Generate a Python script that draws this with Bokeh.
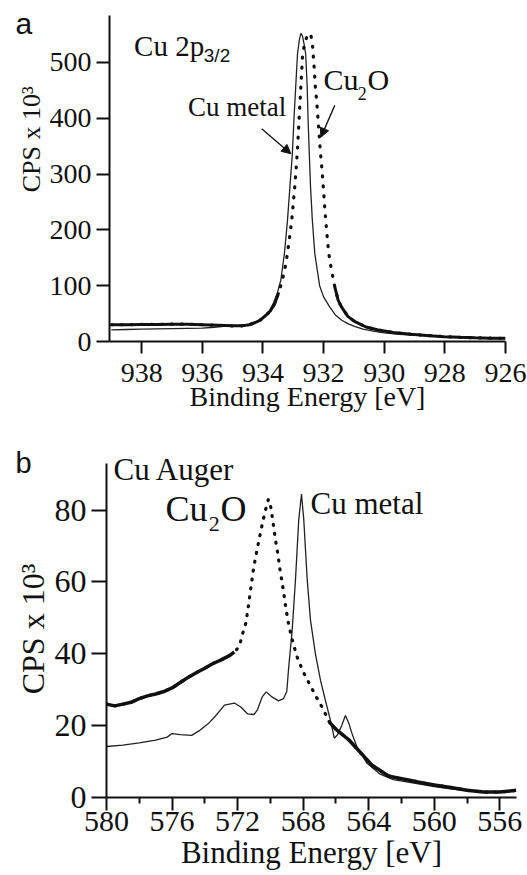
import numpy as np
from bokeh.plotting import figure
from bokeh.layouts import column, row
from bokeh.models import Range1d, Label, Arrow, NormalHead, FixedTicker
from bokeh.embed import file_html
from bokeh.resources import INLINE

# ---------------- panel a : Cu 2p3/2 ----------------
a_metal_be = [939.0, 938.5, 938.0, 937.5, 937.0, 936.5, 936.0, 935.6, 935.3, 935.0, 934.7,
              934.45, 934.25, 934.1, 933.95, 933.8, 933.65, 933.52, 933.41, 933.29, 933.19,
              933.11, 933.03, 932.98, 932.92, 932.86, 932.80, 932.75, 932.70, 932.65, 932.59,
              932.54, 932.51, 932.47, 932.43, 932.37, 932.29, 932.20, 932.13, 932.0, 931.8,
              931.6, 931.4, 931.2, 930.98, 930.7, 930.32, 930.0, 929.5, 929.0, 928.5, 928.0,
              927.5, 927.0, 926.5, 926.0]
a_metal_cps = [21, 21.5, 22, 22.5, 23, 23.5, 24, 25.5, 27, 27.5, 28,
               30, 34, 38.5, 45, 53, 69, 88, 110, 158, 217,
               277, 336, 395, 455, 515, 540, 552, 548, 535, 515,
               456, 396, 336, 277, 217, 158, 125, 100, 80, 62,
               47, 38, 32, 27, 22, 18, 15.5, 13, 11.5, 10, 8,
               7, 6, 5.5, 5]

a_oxide_be = [939.0, 938.5, 938.0, 937.5, 937.0, 936.5, 936.0, 935.5, 935.0, 934.7, 934.45,
              934.25, 934.1, 933.9, 933.75, 933.6, 933.48, 933.36, 933.26, 933.19, 933.12,
              933.05, 933.0, 932.95, 932.91, 932.87, 932.84, 932.81, 932.78, 932.75, 932.72,
              932.69, 932.62, 932.55, 932.48, 932.42, 932.36, 932.31, 932.27, 932.22, 932.18,
              932.14, 932.10, 932.05, 932.01, 931.97, 931.93, 931.88, 931.83, 931.74, 931.63,
              931.52, 931.41, 931.2, 930.98, 930.6, 930.2, 929.7, 929.12, 928.5, 928.02,
              927.5, 927.0, 926.5, 926.0]
a_oxide_cps = [30, 30, 30.5, 30.5, 31, 31, 30, 29, 28, 28, 30,
               34, 38, 47, 55, 69, 88, 110, 135, 158, 187,
               217, 247, 277, 306, 336, 366, 396, 426, 456, 486,
               515, 535, 546, 552, 550, 527, 490, 455, 426, 396,
               366, 336, 306, 277, 247, 217, 187, 158, 128, 98,
               74, 62, 45, 36, 26, 20.6, 16, 13, 10.5, 8.6,
               7.5, 6.5, 6, 5.7]

a_xticks = [938, 936, 934, 932, 930, 928, 926]
a_yticks = [0, 100, 200, 300, 400, 500]

# ---------------- panel b : Cu Auger ----------------
b_metal_be = [580.0, 579.0, 578.0, 577.0, 576.3, 576.0, 575.5, 574.8, 574.3, 573.8, 573.4,
              572.8, 572.2, 571.8, 571.4, 571.0, 570.8, 570.5, 570.25, 569.9, 569.5, 569.2,
              569.0, 568.88, 568.67, 568.47, 568.27, 568.10, 567.96, 567.75, 567.55, 567.25,
              566.94, 566.64, 566.33, 566.1, 565.9, 565.65, 565.42, 565.2, 565.01, 564.71,
              564.1, 563.3, 562.5, 561.5, 560.0, 559.0, 558.0, 557.0, 556.0, 555.0]
b_metal_cps = [14.2, 14.6, 15.2, 16.0, 16.8, 17.8, 17.5, 17.3, 18.7, 20.5, 22.4,
               25.7, 26.3, 25.2, 23.3, 23.1, 24.3, 28.0, 29.4, 28.0, 26.9, 27.5,
               29.5, 36.3, 46.5, 60.5, 77.2, 84.5, 77.2, 60.5, 49.3, 40.0,
               32.6, 27.0, 21.4, 16.5, 17.5, 20.0, 22.8, 20.5, 17.7, 14.0,
               9.5, 6.5, 5.0, 4.2, 3.0, 2.4, 1.9, 1.6, 1.6, 1.8]

b_oxide_be = [580.0, 579.5, 579.0, 578.5, 578.0, 577.5, 577.0, 576.5, 576.0, 575.5, 575.0,
              574.5, 574.0, 573.5, 573.0, 572.5, 572.2, 571.9, 571.7, 571.5, 571.35, 571.2,
              571.05, 570.9, 570.7, 570.5, 570.3, 570.12, 570.0, 569.85, 569.7, 569.55,
              569.4, 569.25, 569.08, 568.9, 568.67, 568.4, 568.0, 567.6, 567.2, 566.8,
              566.4, 566.0, 565.6, 565.2, 564.8, 564.3, 563.8, 563.3, 562.8, 562.3, 561.5,
              561.0, 560.0, 559.0, 558.0, 557.0, 556.0, 555.0]
b_oxide_cps = [26.0, 25.5, 26.0, 26.5, 27.5, 28.3, 28.8, 29.5, 30.5, 32.0, 33.5,
               34.8, 36.0, 37.3, 38.3, 39.5, 40.5, 42.0, 45.5, 48.5, 53.0, 58.0,
               63.0, 67.0, 71.5, 76.0, 80.0, 83.0, 81.5, 77.0, 72.0, 68.0,
               63.0, 59.0, 53.5, 48.5, 44.0, 39.5, 35.0, 31.5, 28.0, 24.8,
               21.0, 19.0, 17.5, 16.0, 14.0, 11.5, 9.0, 7.5, 6.0, 5.5, 4.8,
               4.3, 3.5, 2.8, 2.0, 1.5, 1.5, 2.0]

b_xticks = [580, 576, 572, 568, 564, 560, 556]
b_xminor = [578, 574, 570, 566, 562, 558]
b_yticks = [0, 20, 40, 60, 80]

INK = "#111111"
SERIF = "Liberation Serif"
SANS = "Liberation Sans"
STRIP_A = 46
STRIP_B = 50

# panel geometry (pixels): canvas heights and frame borders
A_H, A_TOP, A_BOTTOM = 437, 15, 96
B_H, B_TOP, B_BOTTOM = 438, 4, 78


def style(p, tick_size, x_out, y_out, x_stand, y_stand):
    p.outline_line_color = None
    p.xgrid.visible = False
    p.ygrid.visible = False
    p.background_fill_color = "white"
    p.border_fill_color = "white"
    for ax in (p.xaxis[0], p.yaxis[0]):
        ax.axis_line_width = 2
        ax.axis_line_color = INK
        ax.major_tick_line_width = 2
        ax.major_tick_line_color = INK
        ax.minor_tick_line_width = 2
        ax.minor_tick_line_color = INK
        ax.major_tick_in = 0
        ax.minor_tick_in = 0
        ax.minor_tick_out = 6
        ax.major_label_text_font = SERIF
        ax.major_label_text_font_size = tick_size
        ax.major_label_text_color = INK
    p.xaxis[0].major_tick_out = x_out
    p.yaxis[0].major_tick_out = y_out
    p.xaxis[0].major_label_standoff = x_stand
    p.yaxis[0].major_label_standoff = y_stand


def xtitle(p, size, standoff):
    ax = p.xaxis[0]
    ax.axis_label = "Binding Energy [eV]"
    ax.axis_label_text_font = SERIF
    ax.axis_label_text_font_size = size
    ax.axis_label_text_font_style = "normal"
    ax.axis_label_text_color = INK
    ax.axis_label_standoff = standoff


def lab(p, x, y, text, size, font=SERIF, **kw):
    p.add_layout(Label(x=x, y=y, text=text, text_font=font,
                       text_font_size=size, text_color=INK, **kw))


def strip(width, height, top=0, bottom=0):
    # a text-only side strip; its ranges are pixel rows measured from the top of the canvas
    s = figure(width=width, height=height, x_range=Range1d(0, width),
               y_range=Range1d(height - bottom, top), x_axis_type=None, y_axis_type=None,
               output_backend="svg", toolbar_location=None,
               min_border_left=0, min_border_right=0, min_border_top=top,
               min_border_bottom=bottom)
    s.outline_line_color = None
    s.xgrid.visible = False
    s.ygrid.visible = False
    return s


# ================= panel a =================
p1 = figure(width=527 - STRIP_A, height=A_H, x_range=Range1d(939.06, 926),
            y_range=Range1d(0, 584), output_backend="svg", toolbar_location=None,
            min_border_left=107 - STRIP_A, min_border_right=22, min_border_top=A_TOP,
            min_border_bottom=A_BOTTOM)
style(p1, "28px", 12, 13, 10, 5)
p1.xaxis[0].ticker = FixedTicker(ticks=a_xticks, minor_ticks=[])
p1.yaxis[0].ticker = FixedTicker(ticks=a_yticks, minor_ticks=[])
xtitle(p1, "28px", -4)

ax_be = np.array(a_oxide_be)
ax_cps = np.array(a_oxide_cps)
p1.line(a_metal_be, a_metal_cps, line_color="#222222", line_width=1.3)
p1.line(ax_be, np.where(ax_cps < 100, ax_cps, np.nan), line_color=INK, line_width=3)
p1.line(ax_be, ax_cps, line_color=INK, line_width=3.2, line_dash="1 9", line_cap="round")

lab(p1, 938.25, 500.5, "Cu 2p", "29px")
lab(p1, 935.95, 492.8, "3/2", "19px", font=SANS)
lab(p1, 936.47, 393, "Cu metal", "27px")
lab(p1, 932.0, 439, "Cu", "30px")
lab(p1, 930.87, 432.8, "2", "18px")
lab(p1, 930.55, 439, "O", "30px")

p1.add_layout(Arrow(end=NormalHead(size=9, fill_color=INK, line_color=INK, line_width=1),
                    x_start=934.04, y_start=381, x_end=933.08, y_end=336.4,
                    line_color=INK, line_width=1.3))
p1.add_layout(Arrow(end=NormalHead(size=9, fill_color=INK, line_color=INK, line_width=1),
                    x_start=931.63, y_start=423, x_end=932.09, y_end=366,
                    line_color=INK, line_width=1.3))

s1 = strip(STRIP_A, A_H)
lab(s1, 15, 33, "a", "30px", font=SANS)
lab(s1, 30.5, 166, "CPS x 10³", "26px", angle=np.pi / 2,
    text_align="center", text_baseline="middle")

# ================= panel b =================
p2 = figure(width=527 - STRIP_B, height=B_H, x_range=Range1d(580, 554.98),
            y_range=Range1d(0, 99.1), output_backend="svg", toolbar_location=None,
            min_border_left=106 - STRIP_B, min_border_right=11, min_border_top=B_TOP,
            min_border_bottom=B_BOTTOM)
style(p2, "30px", 13, 15, 1, 5)
p2.xaxis[0].ticker = FixedTicker(ticks=b_xticks, minor_ticks=b_xminor)
p2.yaxis[0].ticker = FixedTicker(ticks=b_yticks, minor_ticks=[])
p2.yaxis[0].major_label_text_font_size = "32px"
p2.yaxis[0].bounds = (0, 93)
xtitle(p2, "31px", 1)

bx_be = np.array(b_oxide_be)
bx_cps = np.array(b_oxide_cps)
dense_b = (bx_be > 571.9) | (bx_be < 566.6)
p2.line(b_metal_be, b_metal_cps, line_color="#222222", line_width=1.3)
p2.line(bx_be, np.where(dense_b, bx_cps, np.nan), line_color=INK, line_width=3.5)
p2.line(bx_be, bx_cps, line_color=INK, line_width=3.2, line_dash="1 8", line_cap="round")

lab(p2, 579.57, 86.4, "Cu Auger", "31px")
lab(p2, 576.40, 74.8, "Cu", "36px")
lab(p2, 573.76, 74.2, "2", "22px")
lab(p2, 573.04, 74.8, "O", "36px")
lab(p2, 567.55, 77.1, "Cu metal", "31px")

s2 = strip(STRIP_B, B_H, B_TOP, B_BOTTOM)
lab(s2, 15, 41, "b", "29px", font=SANS)
lab(s2, 32, 191.5, "CPS x 10³", "32px", angle=np.pi / 2,
    text_align="center", text_baseline="middle")

layout = column(row(s1, p1, spacing=0), row(s2, p2, spacing=0), spacing=0)
open("out.html", "w").write(file_html(layout, INLINE))
